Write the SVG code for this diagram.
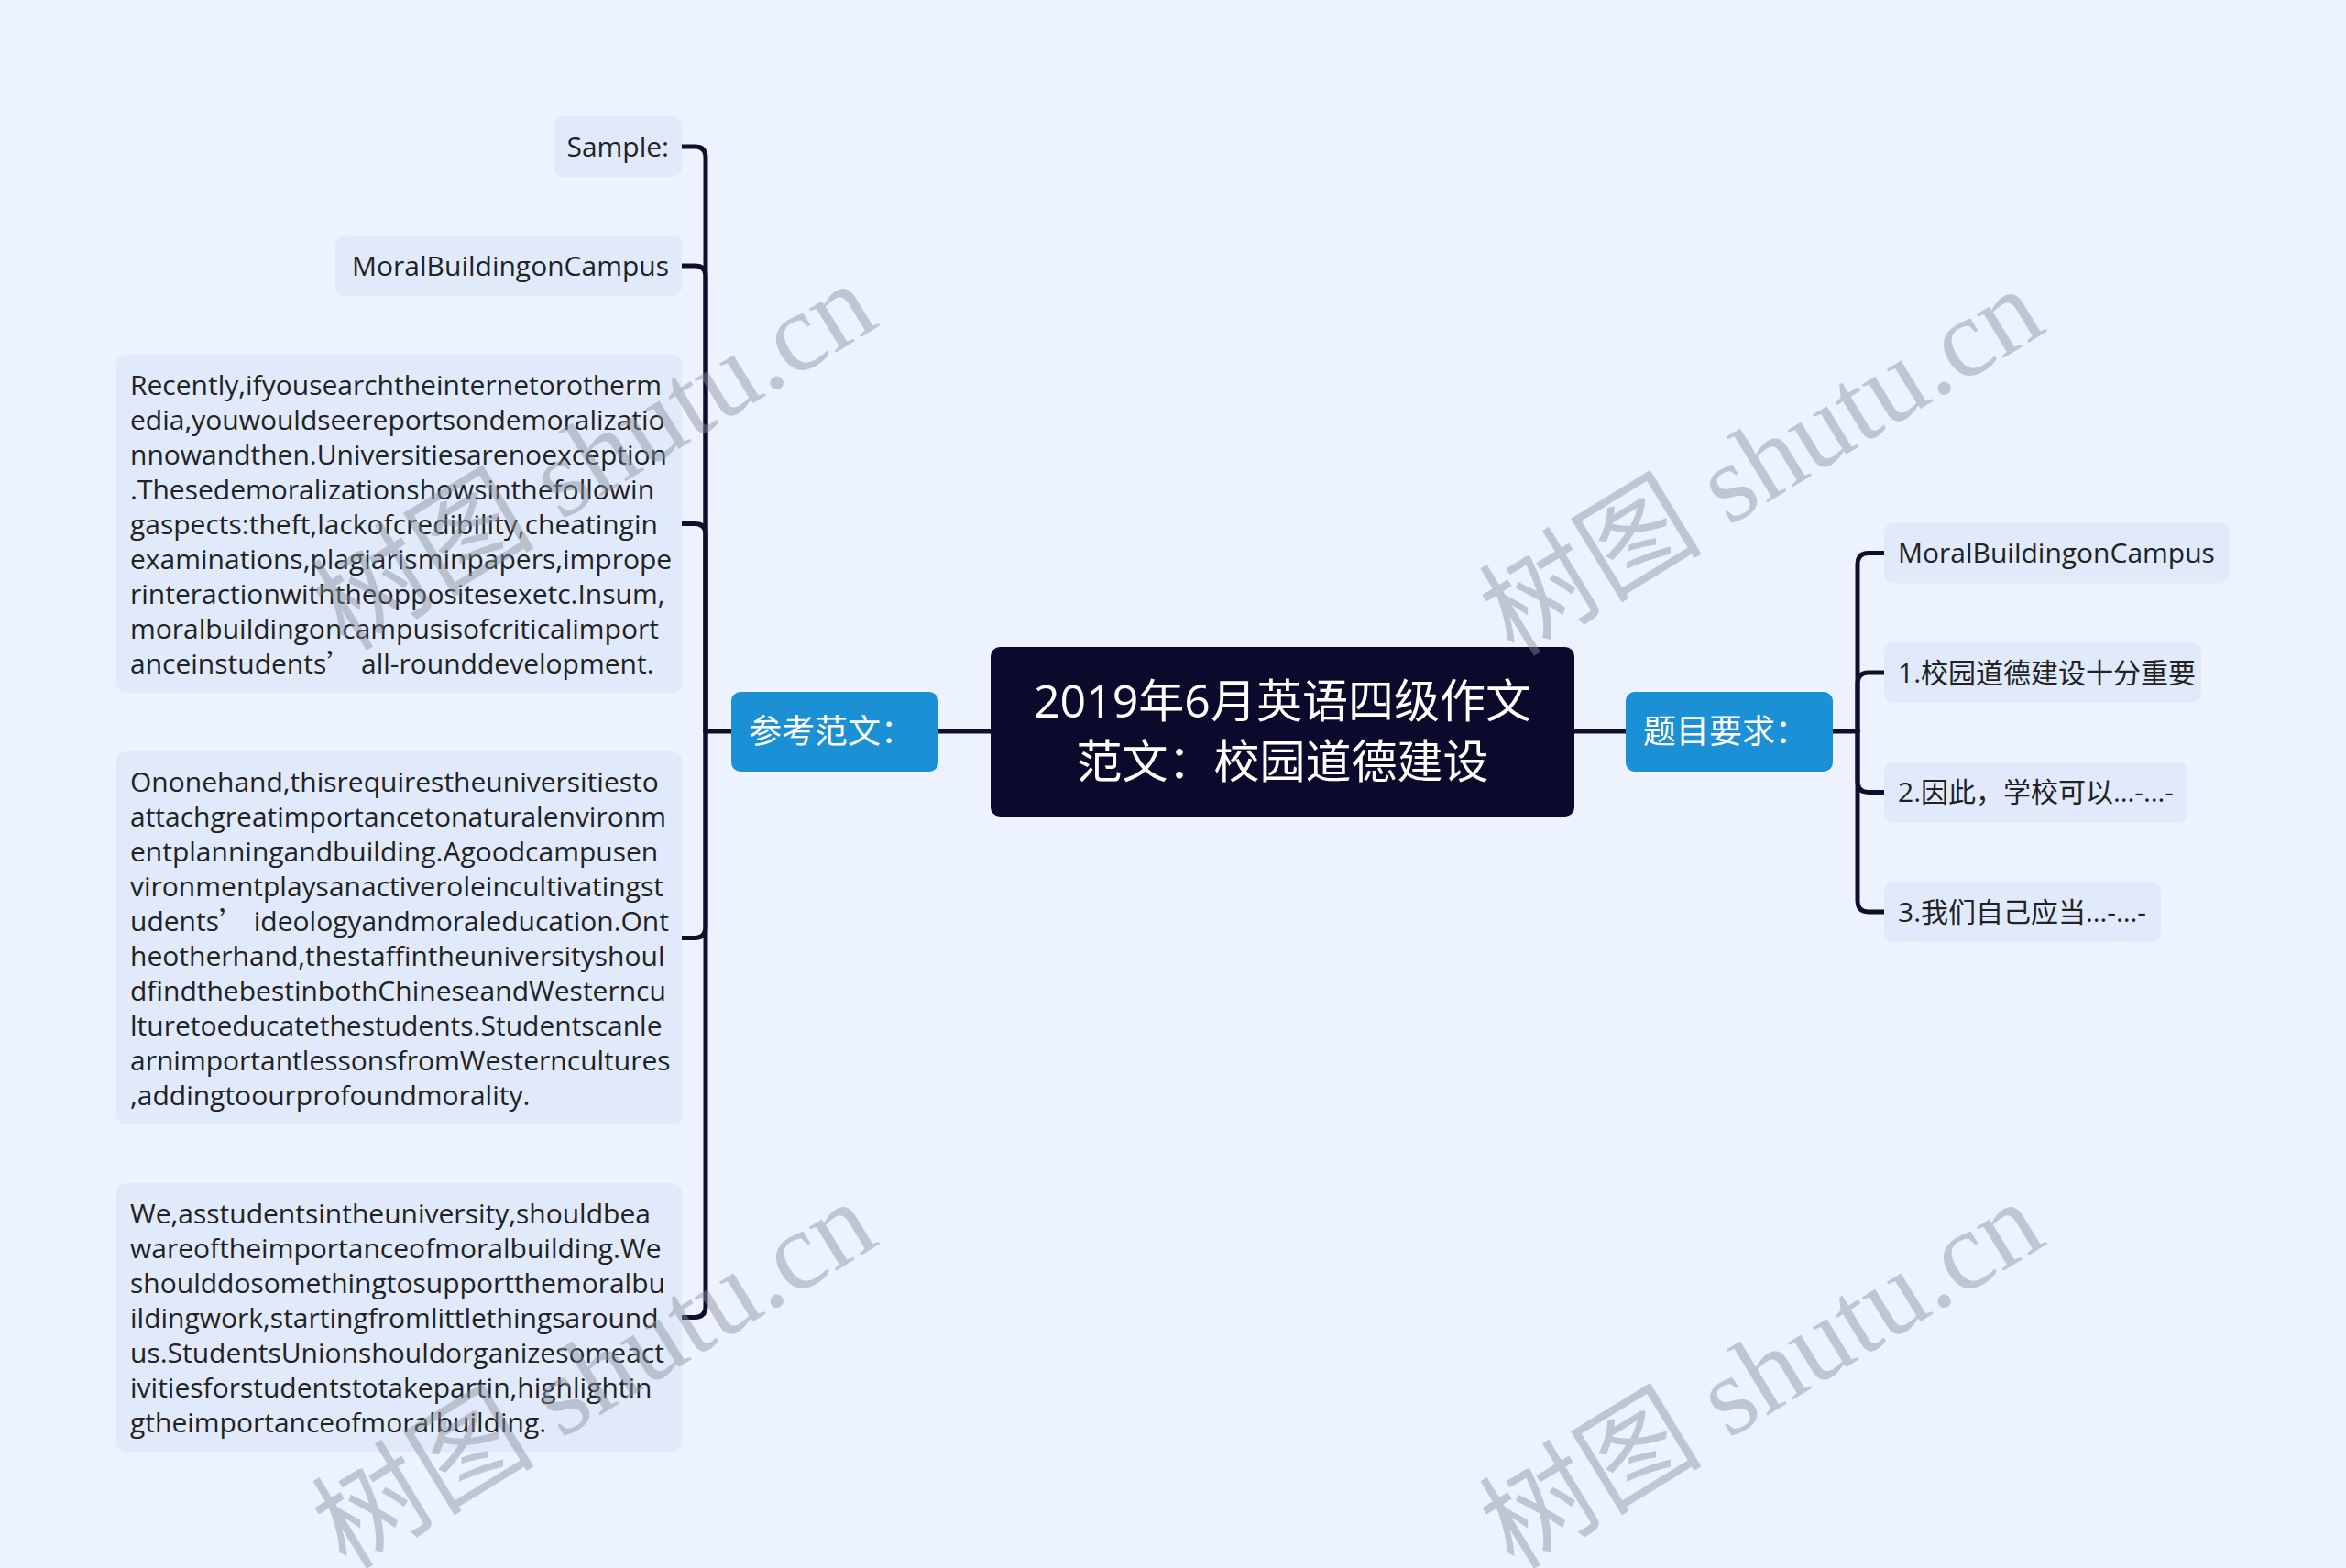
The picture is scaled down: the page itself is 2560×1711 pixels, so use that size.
<svg xmlns="http://www.w3.org/2000/svg" width="2560" height="1711" viewBox="0 0 2560 1711">
<style>
.bg{fill:#edf3fe}
.leaf{fill:#e0eafb}
.main{fill:#1b90d4}
.root{fill:#0c0a2c}
.t{font-family:"Open Sans","Noto Sans","Noto Sans CJK SC",sans-serif;font-size:30px;fill:#222222}
.tm{font-family:"Open Sans","Noto Sans CJK SC",sans-serif;font-size:36px;fill:#ffffff}
.tr{font-family:"Open Sans","Noto Sans CJK SC",sans-serif;font-size:50px;fill:#ffffff}
.q{font-family:"Noto Sans CJK SC",sans-serif}
.c{fill:none;stroke:#0f0e2b;stroke-width:5;stroke-linecap:round}
.wm{font-family:"Liberation Serif","Noto Sans CJK SC",serif;font-size:122px;fill:#8a909c;fill-opacity:0.45}
</style>
<rect class="bg" x="0" y="0" width="2560" height="1711"/>

<g id="connectors">
<path class="c" d="M1024 798 H1081"/>
<path class="c" d="M1718 798 H1774"/>
<path class="c" d="M798 798 H770"/>
<path class="c" d="M770 798 V172 Q770 160 758 160 H744"/>
<path class="c" d="M770 798 V302 Q770 290 758 290 H744"/>
<path class="c" d="M770 798 V583.5 Q770 571.5 758 571.5 H744"/>
<path class="c" d="M770 798 V1011.5 Q770 1023.5 758 1023.5 H744"/>
<path class="c" d="M770 798 V1425.5 Q770 1437.5 758 1437.5 H744"/>
<path class="c" d="M2000 798 H2027"/>
<path class="c" d="M2027 798 V615.5 Q2027 603.5 2039 603.5 H2056"/>
<path class="c" d="M2027 798 V746 Q2027 734 2039 734 H2056"/>
<path class="c" d="M2027 798 V852.5 Q2027 864.5 2039 864.5 H2056"/>
<path class="c" d="M2027 798 V983 Q2027 995 2039 995 H2056"/>
</g>

<g id="root">
<rect class="root" x="1081" y="706" width="637" height="185" rx="10"/>
<text class="tr" x="1399.5" y="783" text-anchor="middle">2019年6月英语四级作文</text>
<text class="tr" x="1399.5" y="849" text-anchor="middle">范文：校园道德建设</text>
</g>

<g id="main-left">
<rect class="main" x="798" y="755" width="226" height="87" rx="10"/>
<text class="tm" x="817" y="811">参考范文：</text>
</g>

<g id="main-right">
<rect class="main" x="1774" y="755" width="226" height="87" rx="10"/>
<text class="tm" x="1793" y="811">题目要求：</text>
</g>

<g id="sample">
<rect class="leaf" x="604" y="127" width="140" height="66" rx="10"/>
<text class="t" x="730" y="171" text-anchor="end">Sample:</text>
</g>

<g id="title-left">
<rect class="leaf" x="366" y="257" width="378" height="66" rx="10"/>
<text class="t" x="730" y="301" text-anchor="end">MoralBuildingonCampus</text>
</g>

<g id="para1">
<rect class="leaf" x="127" y="387" width="617" height="369" rx="10"/>
<text class="t" x="142" y="431">
<tspan x="142" dy="0">Recently,ifyousearchtheinternetorotherm</tspan>
<tspan x="142" dy="38">edia,youwouldseereportsondemoralizatio</tspan>
<tspan x="142" dy="38">nnowandthen.Universitiesarenoexception</tspan>
<tspan x="142" dy="38">.Thesedemoralizationshowsinthefollowin</tspan>
<tspan x="142" dy="38">gaspects:theft,lackofcredibility,cheatingin</tspan>
<tspan x="142" dy="38">examinations,plagiarisminpapers,imprope</tspan>
<tspan x="142" dy="38">rinteractionwiththeoppositesexetc.Insum,</tspan>
<tspan x="142" dy="38">moralbuildingoncampusisofcriticalimport</tspan>
<tspan x="142" dy="38">anceinstudents<tspan class="q">’</tspan> all-rounddevelopment.</tspan>
</text>
</g>

<g id="para2">
<rect class="leaf" x="127" y="820" width="617" height="407" rx="10"/>
<text class="t" x="142" y="864">
<tspan x="142" dy="0">Ononehand,thisrequirestheuniversitiesto</tspan>
<tspan x="142" dy="38">attachgreatimportancetonaturalenvironm</tspan>
<tspan x="142" dy="38">entplanningandbuilding.Agoodcampusen</tspan>
<tspan x="142" dy="38">vironmentplaysanactiveroleincultivatingst</tspan>
<tspan x="142" dy="38">udents<tspan class="q">’</tspan>  ideologyandmoraleducation.Ont</tspan>
<tspan x="142" dy="38">heotherhand,thestaffintheuniversityshoul</tspan>
<tspan x="142" dy="38">dfindthebestinbothChineseandWesterncu</tspan>
<tspan x="142" dy="38">lturetoeducatethestudents.Studentscanle</tspan>
<tspan x="142" dy="38">arnimportantlessonsfromWesterncultures</tspan>
<tspan x="142" dy="38">,addingtoourprofoundmorality.</tspan>
</text>
</g>

<g id="para3">
<rect class="leaf" x="127" y="1291" width="617" height="293" rx="10"/>
<text class="t" x="142" y="1335">
<tspan x="142" dy="0">We,asstudentsintheuniversity,shouldbea</tspan>
<tspan x="142" dy="38">wareoftheimportanceofmoralbuilding.We</tspan>
<tspan x="142" dy="38">shoulddosomethingtosupportthemoralbu</tspan>
<tspan x="142" dy="38">ildingwork,startingfromlittlethingsaround</tspan>
<tspan x="142" dy="38">us.StudentsUnionshouldorganizesomeact</tspan>
<tspan x="142" dy="38">ivitiesforstudentstotakepartin,highlightin</tspan>
<tspan x="142" dy="38">gtheimportanceofmoralbuilding.</tspan>
</text>
</g>

<g id="req0">
<rect class="leaf" x="2056" y="570.5" width="377" height="66" rx="10"/>
<text class="t" x="2071" y="614">MoralBuildingonCampus</text>
</g>
<g id="req1">
<rect class="leaf" x="2056" y="701" width="346" height="66" rx="10"/>
<text class="t" x="2071" y="745">1.校园道德建设十分重要</text>
</g>
<g id="req2">
<rect class="leaf" x="2056" y="831.5" width="331" height="66" rx="10"/>
<text class="t" x="2071" y="875">2.因此，学校可以…-…-</text>
</g>
<g id="req3">
<rect class="leaf" x="2056" y="962" width="302" height="66" rx="10"/>
<text class="t" x="2071" y="1006">3.我们自己应当…-…-</text>
</g>

<g id="watermarks">
<text class="wm" transform="translate(378 712) rotate(-31.5)">树图 shutu.cn</text>
<text class="wm" transform="translate(1652 718) rotate(-31.5)">树图 shutu.cn</text>
<text class="wm" transform="translate(378 1714) rotate(-31.5)">树图 shutu.cn</text>
<text class="wm" transform="translate(1652 1714) rotate(-31.5)">树图 shutu.cn</text>
</g>
</svg>
